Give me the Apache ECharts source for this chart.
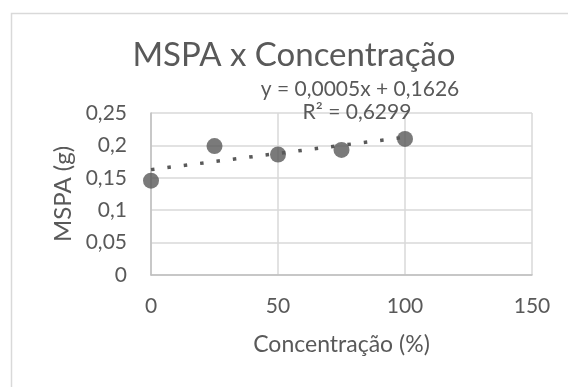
<!DOCTYPE html>
<html><head><meta charset="utf-8">
<script src="https://cdn.jsdelivr.net/npm/echarts@6/dist/echarts.min.js"></script>
<style>html,body{margin:0;padding:0;background:#fff}#c{width:568px;height:387px}</style>
</head><body><div id="c"></div>
<script>
var concentracao = [0, 25, 50, 75, 100];
var mspa = [0.1455, 0.199, 0.186, 0.193, 0.21];
var trendX = [0, 100];
var trendSlope = 0.0005, trendIntercept = 0.1626;
var xTicks = [0, 50, 100, 150];
var yTicks = [0, 0.05, 0.1, 0.15, 0.2, 0.25];
var titleText = 'MSPA x Concentração';
var eqText = 'y = 0,0005x + 0,1626';
var r2Text = 'R² = 0,6299';

var trend = trendX.map(function(x){ return [x, trendIntercept + trendSlope * x]; });
var pts = concentracao.map(function(x, i){ return [x, mspa[i]]; });
var fmt = function(v){ return String(+v.toFixed(2)).replace('.', ','); };
var txt = '#595959', font = 'Lato';

var chart = echarts.init(document.getElementById('c'));
chart.setOption({
  animation: false,
  backgroundColor: '#fff',
  textStyle: { fontFamily: font },
  graphic: [
    { type: 'rect', shape: { x: 11.5, y: 13.5, width: 600, height: 400 }, style: { fill: 'none', stroke: '#d9d9d9', lineWidth: 1.5 }, z: -1 },
    { type: 'text', x: 294, y: 55, style: { text: titleText, fill: txt, font: '33px Lato', textAlign: 'center', textVerticalAlign: 'middle' } },
    { type: 'text', x: 360, y: 89, style: { text: eqText, fill: txt, font: '21px Lato', textAlign: 'center', textVerticalAlign: 'middle' } },
    { type: 'text', x: 357, y: 112, style: { text: r2Text, fill: txt, font: '21px Lato', textAlign: 'center', textVerticalAlign: 'middle' }, z: 1 }
  ],
  grid: { left: 151, right: 36, top: 113, bottom: 112 },
  xAxis: {
    type: 'value', min: 0, max: 150, interval: 50,
    name: 'Concentração (%)', nameLocation: 'middle', nameGap: 58,
    nameTextStyle: { color: txt, fontSize: 23, fontFamily: font },
    axisLine: { show: true, lineStyle: { color: '#bfbfbf', width: 1.5 } },
    axisTick: { show: false },
    axisLabel: { color: txt, fontSize: 21, fontFamily: font, margin: 21 },
    splitLine: { show: true, lineStyle: { color: '#d9d9d9', width: 1.5 } }
  },
  yAxis: {
    type: 'value', min: 0, max: 0.25, interval: 0.05,
    name: 'MSPA (g)', nameLocation: 'middle', nameGap: 73,
    nameTextStyle: { color: txt, fontSize: 24, fontFamily: font },
    axisLine: { show: true, lineStyle: { color: '#bfbfbf', width: 1.5 } },
    axisTick: { show: false },
    axisLabel: { color: txt, fontSize: 21, fontFamily: font, margin: 24, formatter: fmt },
    splitLine: { show: true, lineStyle: { color: '#d9d9d9', width: 1.5 } }
  },
  series: [
    { type: 'line', data: trend, symbol: 'none', z: 3,
      lineStyle: { color: '#595959', width: 3.5, type: [3.5, 13] } },
    { type: 'scatter', data: pts, symbol: 'circle', symbolSize: 16, z: 2,
      itemStyle: { color: '#595959' } }
  ]
});
</script></body></html>
